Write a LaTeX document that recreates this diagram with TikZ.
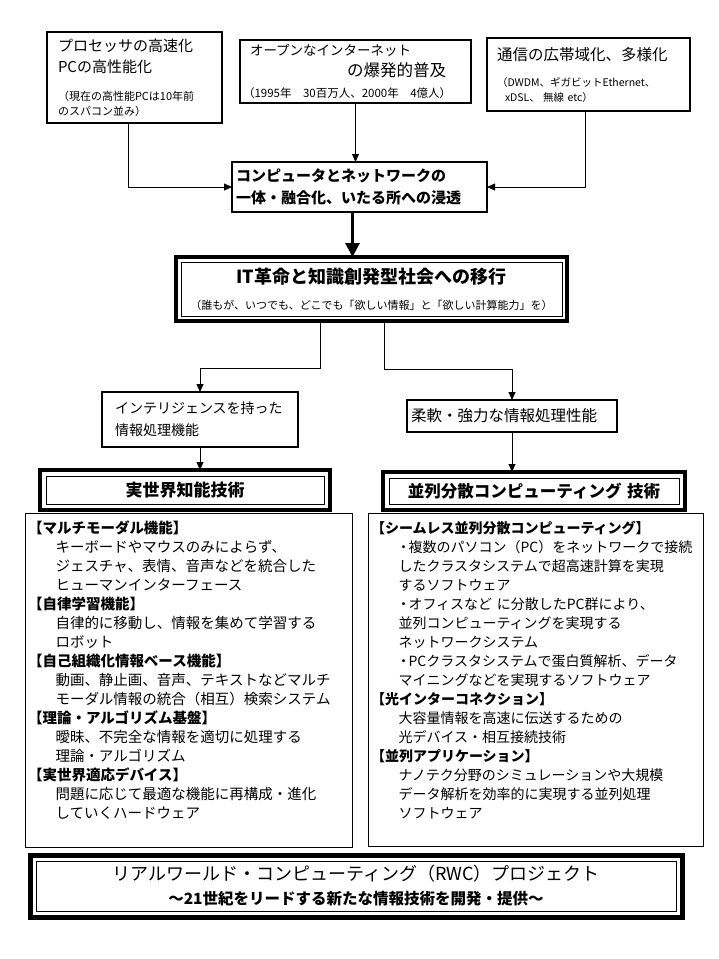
\documentclass[tikz,border=0pt]{standalone}
\usepackage{fontspec}
\setmainfont{Noto Sans CJK JP}
\usepackage{tikz}
\usetikzlibrary{arrows.meta,positioning,calc}

\newcommand{\fsz}[2]{\fontsize{#1}{#2}\selectfont}
\newcommand{\ind}{\hspace*{27.5pt}}
\newcommand{\bul}{\hspace*{27.5pt}\makebox[10pt][c]{・}}

\begin{document}
\begin{tikzpicture}[x=1pt,y=-1pt,
    box/.style={draw,line width=2pt,inner ysep=0pt,outer sep=0pt,align=left},
    dblbox/.style={draw,line width=4.5pt,inner sep=0pt,outer sep=0pt,align=center},
    listbox/.style={draw,line width=0.8pt,inner xsep=3pt,inner ysep=8pt,outer sep=0pt,align=left,anchor=north west,font=\fsz{14.5}{19}},
    arr/.style={line width=0.8pt,-{Triangle[length=8pt,width=7pt]}},
    bigarr/.style={line width=3pt,-{Triangle[length=14pt,width=14pt]}}]
  \useasboundingbox (0,0) rectangle (719,959);

  \node [box,minimum width=175,minimum height=91,inner xsep=11pt,text width=153pt] (proc) at (134.5,77.5)
    {{\fsz{15}{21}プロセッサの高速化\\PCの高性能化\par}\vspace{13pt}{\fsz{11}{15}（現在の高性能PCは10年前\\のスパコン並み）\par}};
  \node [box,minimum width=231,minimum height=63,inner xsep=3pt,text width=225pt] (inet) at (355.5,71.5)
    {{\fsz{13.5}{21}\hspace*{7pt}オープンなインターネット\par}{\fsz{16.5}{21}\hspace*{104pt}の爆発的普及\par}{\fsz{11.5}{21}（1995年　30百万人、2000年　4億人）\par}};
  \node [box,minimum width=203,minimum height=73,inner xsep=10pt,text width=183pt] (netw) at (588.5,74.5)
    {{\fsz{15.5}{21}通信の広帯域化、多様化\par}\vspace{11pt}{\fsz{10.5}{15}（DWDM、ギガビットEthernet、\\\hspace*{8pt}xDSL、 無線 etc）\par}};

  \node [box,line width=2.5pt,minimum width=255,minimum height=50,inner xsep=4pt,text width=247pt,font=\bfseries\fsz{15}{22}] (merge) at (359.5,187)
    {コンピュータとネットワークの\\一体・融合化、いたる所への浸透};

  \node [dblbox,line width=3.5pt,minimum width=391,minimum height=64,text width=385pt] (it) at (371.5,289)
    {{\bfseries\fsz{18}{24}IT革命と知識創発型社会への移行\par}\vspace{11pt}{\fsz{11}{15}（誰もが、いつでも、どこでも「欲しい情報」と「欲しい計算能力」を）\par}};

  \node [box,minimum width=196,minimum height=55,inner xsep=13pt,text width=170pt,font=\fsz{14}{22}] (intel) at (200,419.5)
    {インテリジェンスを持った\\情報処理機能};
  \node [box,minimum width=210,minimum height=32,inner xsep=4pt,text width=202pt,font=\fsz{15.5}{20}] (flex) at (512,416)
    {柔軟・強力な情報処理性能};

  \node [dblbox,minimum width=290,minimum height=40,text width=270pt,font=\bfseries\fsz{17}{20}] (rwt) at (185,490) {実世界知能技術};
  \node [dblbox,minimum width=302,minimum height=38,text width=290pt,font=\bfseries\fsz{16.5}{20}] (pdc) at (534,491) {並列分散コンピューティング 技術};

  \node [listbox,text width=321pt] (rwtlist) at (25,513)
    {\textbf{【マルチモーダル機能】}\\
     \ind キーボードやマウスのみによらず、\\
     \ind ジェスチャ、表情、音声などを統合した\\
     \ind ヒューマンインターフェース\\
     \textbf{【自律学習機能】}\\
     \ind 自律的に移動し、情報を集めて学習する\\
     \ind ロボット\\
     \textbf{【自己組織化情報ベース機能】}\\
     \ind 動画、静止画、音声、テキストなどマルチ\\
     \ind モーダル情報の統合（相互）検索システム\\
     \textbf{【理論・アルゴリズム基盤】}\\
     \ind 曖昧、不完全な情報を適切に処理する\\
     \ind 理論・アルゴリズム\\
     \textbf{【実世界適応デバイス】}\\
     \ind 問題に応じて最適な機能に再構成・進化\\
     \ind していくハードウェア\par\rule{0pt}{19pt}};
  \node [listbox,text width=329pt,font=\fsz{14}{19}] (pdclist) at (368,513)
    {\textbf{【シームレス並列分散コンピューティング】}\\
     \bul 複数のパソコン（PC）をネットワークで接続\\
     \ind したクラスタシステムで超高速計算を実現\\
     \ind するソフトウェア\\
     \bul オフィスなど に分散したPC群により、\\
     \ind 並列コンピューティングを実現する\\
     \ind ネットワークシステム\\
     \bul PCクラスタシステムで蛋白質解析、データ\\
     \ind マイニングなどを実現するソフトウェア\\
     \textbf{【光インターコネクション】}\\
     \ind 大容量情報を高速に伝送するための\\
     \ind 光デバイス・相互接続技術\\
     \textbf{【並列アプリケーション】}\\
     \ind ナノテク分野のシミュレーションや大規模\\
     \ind データ解析を効率的に実現する並列処理\\
     \ind ソフトウェア\par\rule{0pt}{19pt}};

  \node [dblbox,line width=5pt,minimum width=652,minimum height=62,text width=640pt] (rwc) at (356,886)
    {{\fsz{18}{24}リアルワールド・コンピューティング（RWC）プロジェクト\par}{\bfseries\fsz{15.5}{24}～21世紀をリードする新たな情報技術を開発・提供～\par}};

  \foreach \n/\d in {it/5,rwt/6,pdc/6,rwc/6}
    \draw [line width=0.8pt] ([shift={(\d,\d)}]\n.north west) rectangle ([shift={(-\d,-\d)}]\n.south east);

  \draw [arr] ([xshift=-6.5]proc.south) |- (merge.west);
  \draw [arr] (inet.south) -- (inet.south |- merge.north);
  \draw [arr] ([xshift=-3.5]netw.south) |- (merge.east);
  \coordinate (mx) at ([xshift=-7]merge.south);
  \draw [bigarr] (mx) -- (mx |- it.north);
  \draw [arr] ([xshift=-51.5]it.south) -- ++(0,47) -| (intel.north);
  \draw [arr] ([xshift=12.5]it.south) -- ++(0,48) -| (flex.north);
  \draw [arr] (intel.south) -- (intel.south |- rwt.north);
  \draw [arr] (flex.south) -- (flex.south |- pdc.north);
\end{tikzpicture}
\end{document}
